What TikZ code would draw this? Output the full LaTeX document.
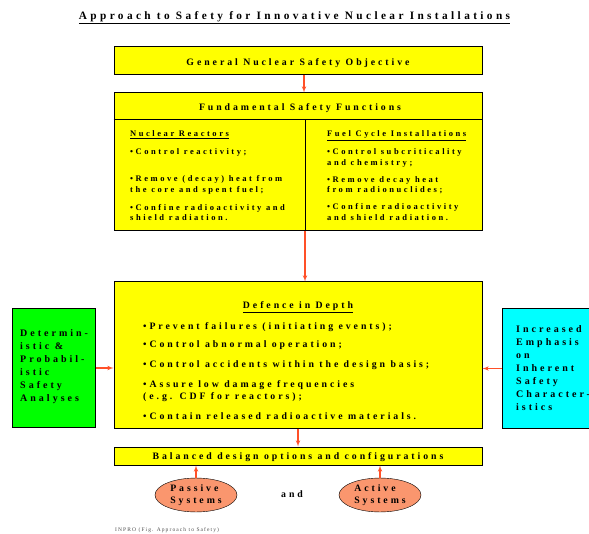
\documentclass[tikz,border=0pt]{standalone}
\usepackage{fontspec}
\setmainfont{Liberation Serif}
\newfontfamily\spaced[LetterSpace=30]{Liberation Serif}
\usepackage{tikz}
\usetikzlibrary{arrows,positioning,shapes.geometric}
\definecolor{boxyellow}{RGB}{255,255,0}
\definecolor{boxgreen}{RGB}{0,255,0}
\definecolor{boxcyan}{RGB}{0,255,255}
\definecolor{systemorange}{RGB}{250,150,110}
\definecolor{arrowred}{RGB}{255,80,40}

\begin{document}
\begin{tikzpicture}[
    x=1pt, y=-1pt,
    >=latex',
    font=\spaced\bfseries\fontsize{9.8}{12}\selectfont,
    block/.style={
		rectangle,
		draw=black,
		line width=1pt,
		fill=boxyellow,
		inner sep=0pt,
		minimum width=368pt
	},
	side/.style={
		rectangle,
		draw=black,
		line width=1pt,
		inner sep=0pt,
		minimum height=119pt
	},
	system/.style={
		ellipse,
		draw=black,
		fill=systemorange,
		inner sep=0pt,
		minimum width=82pt,
		minimum height=32pt
	},
	column/.style={
		anchor=north west,
		inner sep=0pt,
		font=\spaced\bfseries\fontsize{8.5}{10.5}\selectfont
	},
	flow/.style={
		draw=arrowred,
		line width=1.1pt,
		->
	}
  ]
  \useasboundingbox (0,0) rectangle (589,534);

  % title
  \node [font=\spaced\bfseries\fontsize{11.3}{13}\selectfont] (title) at (294.5,18)
  {\underline{Approach to Safety for Innovative Nuclear Installations}};

  % the blocks
  \node [block, minimum height=28pt] (objective) at (298,61) {};
  \node (objectivetext) at (298,63) {General Nuclear Safety Objective};

  \node [block, minimum height=138pt] (functions) at (298,162) {};
  \node (functionstitle) at (300,108) {Fundamental Safety Functions};
  \draw [line width=1pt] (functions.north west) ++(0,27) -- ++(368,0);
  \draw [line width=1pt] (305,120) -- (305,231);

  \node [column] (reactors) at (130,129)
 {%
 \begin{tabular}{@{}l@{}}
  \underline{Nuclear Reactors}\\[7.5pt]
  •Control reactivity;\\[16.5pt]
  •Remove (decay) heat from\\
  the core and spent fuel;\\[7.5pt]
  •Confine radioactivity and\\
  shield radiation.
 \end{tabular}
 };

  \node [column] (fuelcycle) at (327,129)
 {%
 \begin{tabular}{@{}l@{}}
  \underline{Fuel Cycle Installations}\\[7.5pt]
  •Control subcriticality\\
  and chemistry;\\[6.5pt]
  •Remove decay heat\\
  from radionuclides;\\[6.5pt]
  •Confine radioactivity\\
  and shield radiation.
 \end{tabular}
 };

  \node [block, minimum height=146pt] (defence) at (298,355) {};
  \node (defencetitle) at (298,307) {\underline{Defence in Depth}};
  \node [anchor=north west, inner sep=0pt] (defencelist) at (143,321)
 {%
 \begin{tabular}{@{}l@{}}
  •Prevent failures (initiating events);\\[6pt]
  •Control abnormal operation;\\[8pt]
  •Control accidents within the design basis;\\[8pt]
  •Assure low damage frequencies\\
  (e.g. CDF for reactors);\\[8pt]
  •Contain released radioactive materials.
 \end{tabular}
 };

  \node [side, fill=boxgreen, minimum width=83pt] (analyses) at (53.5,368) {};
  \node [anchor=north west, inner sep=0pt, font=\spaced\bfseries\fontsize{10}{13}\selectfont] (analysestext) at (20,327)
 {%
 \begin{tabular}{@{}l@{}}
  Determin-\\
  istic \&\\
  Probabil-\\
  istic\\
  Safety\\
  Analyses
 \end{tabular}
 };

  \node [side, fill=boxcyan, minimum width=98pt] (inherent) at (551,368.5) {};
  \node [anchor=north west, inner sep=0pt, font=\spaced\bfseries\fontsize{10}{13}\selectfont] (inherenttext) at (516,323)
 {%
 \begin{tabular}{@{}l@{}}
  Increased\\
  Emphasis\\
  on\\
  Inherent\\
  Safety\\
  Character-\\
  istics
 \end{tabular}
 };

  \node [block, minimum height=18pt] (balanced) at (298,456) {};
  \node (balancedtext) at (298,457.5) {Balanced design options and configurations};

  \node [system] (passive) at (196,495)
 {%
 \begin{tabular}{@{}l@{}}
  Passive\\
  Systems
 \end{tabular}
 };
  \node (and) at (292,494) {and};
  \node [system] (active) at (380,495)
 {%
 \begin{tabular}{@{}l@{}}
  Active\\
  Systems
 \end{tabular}
 };

  \node [anchor=west, inner sep=0pt, text=black!70, font=\fontsize{5.5}{6}\selectfont\addfontfeature{LetterSpace=20}] (footer) at (115,530)
  {INPRO (Fig. Approach to Safety)};

  % the arrows
  \draw [flow] ([xshift=6pt]objective.south) -- ([xshift=6pt]functions.north);
  \draw [flow] ([xshift=7pt]functions.south) -- ([xshift=7pt]defence.north);
  \draw [flow] (defence) -- (balanced);
  \draw [flow] (analyses.east) -- (analyses.east -| defence.west);
  \draw [flow] (inherent.west) -- (inherent.west -| defence.east);
  \draw [flow] (passive) -- (passive |- balanced.south);
  \draw [flow] (active) -- (active |- balanced.south);

\end{tikzpicture}
\end{document}
